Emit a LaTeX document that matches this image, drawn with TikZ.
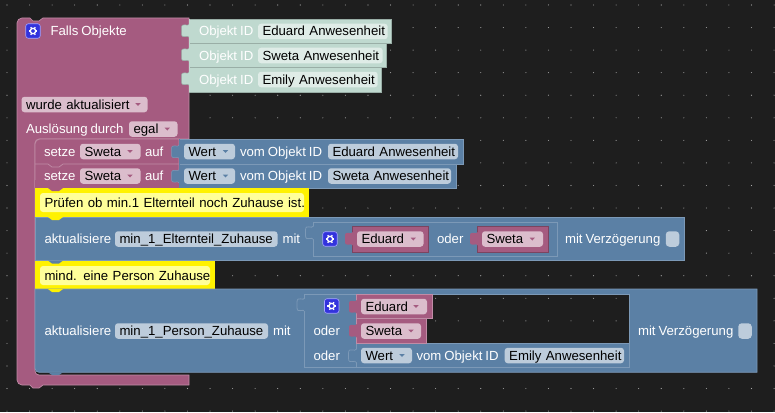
\documentclass[tikz,border=0pt]{standalone}
\usepackage{fontspec}
\setmainfont[WordSpace=0.8]{Liberation Sans}
\usepackage{tikz}

\definecolor{bgdark}{HTML}{1E1E1E}
\definecolor{griddot}{HTML}{A8A8A8}
\definecolor{pinkblock}{HTML}{A55B80}
\definecolor{pinkline}{HTML}{C08CA6}
\definecolor{pinkfield}{HTML}{DBBDCC}
\definecolor{blueblock}{HTML}{5B80A5}
\definecolor{blueline}{HTML}{7C99B7}
\definecolor{bluefield}{HTML}{BDCCDB}
\definecolor{mintblock}{HTML}{BFD9CF}
\definecolor{mintline}{HTML}{99AEA6}
\definecolor{mintfield}{HTML}{DFECE7}
\definecolor{yellowfield}{HTML}{FFFF99}
\definecolor{gearblue}{HTML}{3333DD}

\newcommand{\blfont}{\fontsize{13.2}{15}\selectfont}

\tikzset{
	pinkpart/.style={fill=pinkblock,draw=pinkline,line width=0.7},
	bluepart/.style={fill=blueblock,draw=blueline,line width=0.7},
	mintpart/.style={fill=mintblock,draw=mintline,line width=0.7},
	yellowpart/.style={fill=yellow},
	holepart/.style={draw=blueline,line width=0.8},
	lbl/.style={text=white,inner sep=0,outer sep=0,anchor=west,font=\blfont,text height=10.5,text depth=1.5},
	fieldbase/.style={rounded corners=3,inner ysep=0,inner xsep=4.5,outer sep=0,minimum height=15.5,font=\blfont,text=black,text height=10.5,text depth=1.5,align=left},
	pinkfld/.style={fieldbase,fill=pinkfield},
	bluefld/.style={fieldbase,fill=bluefield},
	mintfld/.style={fieldbase,fill=mintfield},
	yellowfld/.style={fieldbase,fill=yellowfield,minimum height=19},
	gearbox/.style={fill=gearblue,draw=blue!35!white,line width=0.6,rounded corners=2.5,minimum size=14.5,inner sep=0,outer sep=0},
	tickbox/.style={fill=bluefield,rounded corners=3.5,minimum width=13.5,minimum height=15.5,inner sep=0,outer sep=0},
}

% field with left aligned text: style, name, left, right, y, text
\newcommand{\fieldnode}[6]{
	\pgfmathsetmacro{\fieldw}{#4-#3}
	\pgfmathsetmacro{\fieldt}{#4-#3-9}
	\node[#1,minimum width=\fieldw pt,text width=\fieldt pt,anchor=west] (#2) at (#3,#5) {\mbox{#6}};
}
\newcommand{\dropmark}[3]{
	\fill[#3] (#1-2.6,#2-1.3) -- (#1+2.6,#2-1.3) -- (#1,#2+1.5) -- cycle;
}
\newcommand{\gearicon}[3]{
	\node[gearbox] (#1) at (#2,#3) {};
	\draw[white,line width=1.3] (#1) circle (2.7);
	\foreach \a in {0,60,...,300}
		\draw[white,line width=1.3] (#1.center) ++(\a:3) -- ++(\a:1.4);
}
\newcommand{\puzzletab}[3]{
	\begin{scope}[shift={(#1,#2)}]
		\path[#3] (0.5,0) .. controls (-1,3.5) and (-7.5,-2.5) .. (-7.5,4) -- (-7.5,9.5) .. controls (-7.5,16) and (-1,10) .. (0.5,13.5);
	\end{scope}
}
\newcommand{\stmtpeg}[3]{
	\fill[#3] (48,#1) -- (52,#1+#2) -- (59,#1+#2) -- (63,#1) -- cycle;
}

\begin{document}
\begin{tikzpicture}[x=1pt,y=-1pt]
\useasboundingbox (0,0) rectangle (775,412);
\fill[bgdark] (0,0) rectangle (775,412);
\foreach \i in {0,...,34}
	\foreach \j in {0,...,18}
		\fill[griddot] (7+22.56*\i,5+22.56*\j) circle (0.55);

\draw[pinkpart] (189,139) -- (189,18) -- (43,18) -- (39,21) -- (33,21) -- (30,18) [rounded corners=5] -- (17,18) -- (17,385) [sharp corners] -- (30,385) -- (33,388) -- (39,388) -- (43,385) -- (189,385) -- (189,375) -- (41,375) [rounded corners=4] -- (35,375) -- (35,139) [sharp corners] -- cycle;

\draw[mintpart] (189,19) rectangle (391.7,43.7);
\draw[mintpart] (189,43.7) rectangle (386.7,67.7);
\draw[mintpart] (189,67.7) rectangle (381.7,92);
\foreach \t in {24,48,72}
	\puzzletab{189}{\t}{fill=mintblock,draw=mintline,line width=0.5}
\fill[mintblock] (188.5,19.4) rectangle (190,91.6);

\gearicon{gear1}{33}{31}
\node[lbl] (falls) at (50.5,31) {Falls Objekte};
\node[lbl,text=white] (obj1) at (199,31.5) {Objekt ID};
\fieldnode{mintfld}{eduid}{258}{387.7}{31.5}{Eduard Anwesenheit}
\node[lbl,text=white] (obj2) at (199,55.5) {Objekt ID};
\fieldnode{mintfld}{swetaid}{258}{382.7}{55.5}{Sweta Anwesenheit}
\node[lbl,text=white] (obj3) at (199,79.5) {Objekt ID};
\fieldnode{mintfld}{emilyid}{258}{377.7}{79.5}{Emily Anwesenheit}

\fieldnode{pinkfld}{wurde}{21.5}{147.5}{104.5}{wurde aktualisiert}
\dropmark{138}{104.5}{pinkblock}
\node[lbl] (ausl) at (26,129) {Auslösung durch};
\fieldnode{pinkfld}{egal}{129}{177.5}{129}{egal}
\dropmark{167.3}{129}{pinkblock}

\draw[bluepart] (179,139) rectangle (463,164);
\draw[bluepart] (179,164) rectangle (456,188);
\draw[pinkpart] (179,188) -- (179,139) [rounded corners=5] -- (35,139) [sharp corners] -- (35,188) -- cycle;
\fill[pinkblock] (35.4,188) rectangle (178.6,180);
\draw[pinkline,line width=0.7] (35,164) -- (48,164) -- (52,167) -- (59,167) -- (63,164) -- (179,164);
\puzzletab{179}{145}{fill=blueblock,draw=blueline,line width=0.5}
\puzzletab{179}{169.5}{fill=blueblock,draw=blueline,line width=0.5}
\fill[blueblock] (178.7,139.4) rectangle (180,187.6);

\node[lbl] (setze1) at (44,151.5) {setze};
\fieldnode{pinkfld}{sweta1}{80}{140.5}{151.5}{Sweta}
\dropmark{130}{151.5}{pinkblock}
\node[lbl] (auf1) at (145,151.5) {auf};
\fieldnode{bluefld}{wert1}{184}{235}{151.5}{Wert}
\dropmark{225.5}{151.5}{blueblock}
\node[lbl] (vom1) at (240,151.5) {vom Objekt ID};
\fieldnode{bluefld}{idedu}{328}{458}{151.5}{Eduard Anwesenheit}

\node[lbl] (setze2) at (44,176) {setze};
\fieldnode{pinkfld}{sweta2}{80}{140.5}{176}{Sweta}
\dropmark{130}{176}{pinkblock}
\node[lbl] (auf2) at (145,176) {auf};
\fieldnode{bluefld}{wert2}{184}{235}{176}{Wert}
\dropmark{225.5}{176}{blueblock}
\node[lbl] (vom2) at (240,176) {vom Objekt ID};
\fieldnode{bluefld}{idswe}{328}{451}{176}{Sweta Anwesenheit}

\fill[yellowpart] (35,188) rectangle (309,217);
\stmtpeg{188}{3}{pinkblock}
\fieldnode{yellowfld}{note1}{40}{304}{202.5}{Prüfen ob min.1 Elternteil noch Zuhause ist.}

\draw[bluepart] (35,217) rectangle (684,260.5);
\stmtpeg{217}{3}{yellow}
\node[lbl] (akt1) at (44.5,239) {aktualisiere};
\fieldnode{bluefld}{elt}{115}{277.5}{239}{min\_1\_Elternteil\_Zuhause}
\node[lbl] (mit1) at (282.5,239) {mit};
\draw[holepart] (313,222) rectangle (557,256);
\puzzletab{313}{226}{fill=blueblock,draw=blueline,line width=0.8}
\fill[blueblock] (312.7,226.5) rectangle (314,239);
\gearicon{gear2}{330}{239}
\draw[pinkpart,draw=pinkblock!75!black] (352,226) rectangle (428.5,252);
\puzzletab{352.5}{232}{fill=pinkblock}
\fieldnode{pinkfld}{edu1}{357}{423.5}{239}{Eduard}
\dropmark{413.3}{239}{pinkblock}
\node[lbl] (oder1) at (437,239) {oder};
\draw[pinkpart,draw=pinkblock!75!black] (477,226) rectangle (548,252);
\puzzletab{477.5}{232}{fill=pinkblock}
\fieldnode{pinkfld}{swe1}{482}{543}{239}{Sweta}
\dropmark{532.3}{239}{pinkblock}
\node[lbl] (verz1) at (565,239) {mit Verzögerung};
\node[tickbox] (tick1) at (672.5,239) {};

\fill[yellowpart] (35,260.5) rectangle (215,289);
\stmtpeg{260.5}{3}{blueblock}
\fieldnode{yellowfld}{note2}{40}{210}{275.5}{mind. eine Person Zuhause}

\draw[bluepart] (35,289) -- (757,289) -- (757,372.3) -- (41,372.3) [rounded corners=4] -- (35,372.3) [sharp corners] -- cycle;
\stmtpeg{289}{3}{yellow}
\stmtpeg{372.3}{2.7}{blueblock}
\node[lbl] (akt2) at (44.5,331) {aktualisiere};
\fieldnode{bluefld}{pers}{115}{268}{331}{min\_1\_Person\_Zuhause}
\node[lbl] (mit2) at (273,331) {mit};

\fill[bgdark] (432,294) rectangle (629,318.5);
\fill[bgdark] (426,318.5) rectangle (629,343);
\foreach \i in {19,...,27}
	\fill[griddot] (7+22.56*\i,298.3) circle (0.55);
\foreach \i in {19,...,27}
	\fill[griddot] (7+22.56*\i,320.9) circle (0.55);
\draw[holepart] (304.5,294) rectangle (629,367.5);
\draw[holepart] (356,343) -- (356,367.5);
\draw[holepart] (356,343) -- (629,343);
\puzzletab{304.5}{298}{fill=blueblock,draw=blueline,line width=0.8}
\fill[blueblock] (304.2,298.5) rectangle (305.5,311);
\gearicon{gear3}{331.7}{306}
\node[lbl] (oder2) at (313.5,330.5) {oder};
\node[lbl] (oder3) at (313.5,355.5) {oder};
\draw[pinkpart] (356,294) rectangle (432,318.5);
\draw[pinkpart] (356,318.5) rectangle (426,343);
\puzzletab{356.5}{300}{fill=pinkblock}
\puzzletab{356.5}{324}{fill=pinkblock}
\fieldnode{pinkfld}{edu2}{361}{427}{306.5}{Eduard}
\dropmark{416}{306.5}{pinkblock}
\fieldnode{pinkfld}{swe2}{361}{421}{331}{Sweta}
\dropmark{411}{331}{pinkblock}
\puzzletab{356}{349}{fill=blueblock,draw=blueline,line width=0.7}
\fill[blueblock] (355.7,349.5) rectangle (357,362);
\fieldnode{bluefld}{wert3}{361}{412}{355.5}{Wert}
\dropmark{402}{355.5}{blueblock}
\node[lbl] (vom3) at (416.5,355.5) {vom Objekt ID};
\fieldnode{bluefld}{idemi}{504.7}{624}{355.5}{Emily Anwesenheit}
\node[lbl] (verz2) at (638,331) {mit Verzögerung};
\node[tickbox] (tick2) at (745,331) {};

\end{tikzpicture}
\end{document}
